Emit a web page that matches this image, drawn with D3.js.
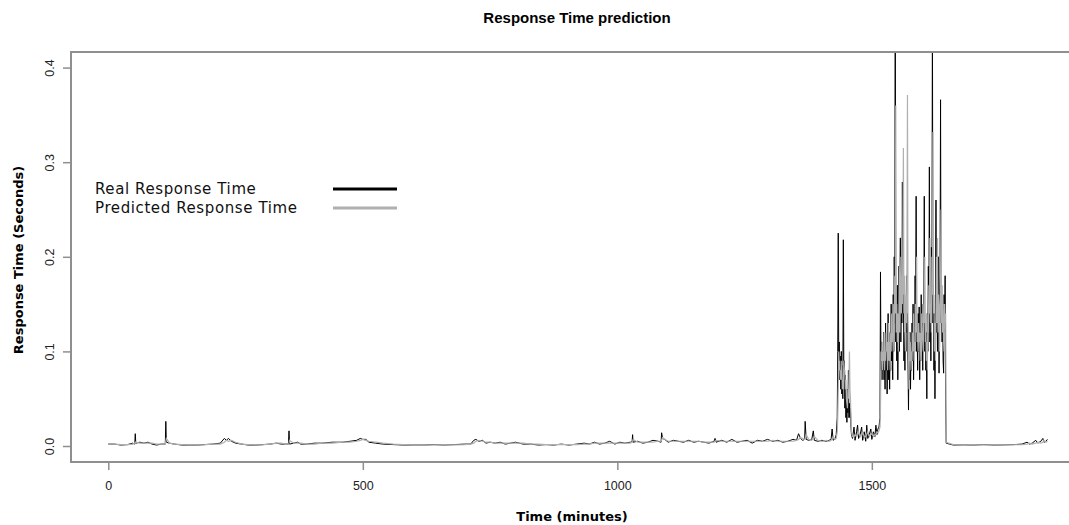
<!DOCTYPE html>
<html>
<head>
<meta charset="utf-8">
<script src="https://cdn.jsdelivr.net/npm/d3@7"></script>
<style>
  body { margin: 0; background: #fff; }
  svg { display: block; }
</style>
</head>
<body>
<div id="plot"></div>
<script>
// time in minutes (denser where the series is busy)
var minutes = [
  0,12,25,38,48,52,53,54,62,70,78,86,95,104,112,113,114,120,130,145,160,175,190,205,220,228,232,236,242,250,
  262,275,290,305,318,330,340,348,354,355,356,364,372,378,390,405,420,440,460,475,488,495,500,506,512,525,540,560,580,600,
  620,640,660,680,700,712,718,722,728,735,742,750,760,770,780,790,800,815,830,845,860,875,890,905,920,935,945,955,965,975,
  985,995,1005,1015,1025,1029,1030,1031,1040,1050,1060,1070,1080,1086,1087,1089,1093,1100,1110,1120,1130,1140,1150,1160,1170,1180,1190,1192,1194,1205,
  1215,1225,1235,1245,1255,1265,1275,1285,1295,1305,1315,1325,1335,1345,1352,1356,1360,1364,1368,1369,1371,1376,1382,1385,1387,1394,1402,1410,1416,1420,
  1422,1424,1428,
  1430,1432,1433,1434,1435,1436,1437,1438,1439,1440,1441,1442,1443,1444,1445,1446,1447,1448,1449,1450,1451,1452,1453,1454,1455,1456,1457,1458,1459,1460,
  1462,1465,1467,1470,1472,1474,1477,1480,1482,1485,1488,1490,1492,1495,1498,1500,1503,1506,1508,1510,1512,1514,
  1516,1517,1518,1519,1520,1521,1522,1523,1524,1525,1526,1527,1528,1529,1530,1531,1532,1533,1534,1535,1536,1537,1538,1539,1540,1541,1542,1543,1544,1545,
  1546,1547,1548,1549,1550,1551,1552,1553,1554,1555,1556,1557,1558,1559,1560,1561,1562,1563,1564,1565,1566,1567,1568,1569,1570,1571,1572,1573,1574,1575,
  1576,1577,1578,1579,1580,1581,1582,1583,1584,1585,1586,1587,1588,1589,1590,1591,1592,1593,1594,1595,1596,1597,1598,1599,1600,1601,1602,1603,1604,1605,
  1606,1607,1608,1609,1610,1611,1612,1613,1614,1615,1616,1617,1618,1619,1620,1621,1622,1623,1624,1625,1626,1627,1628,1629,1630,1631,1632,1633,1634,1635,
  1636,1637,1638,1639,1640,1641,1642,1643,1644,1645,1646,
  1660,1680,1700,1720,1740,1760,1780,1795,1805,1810,1815,1822,1826,1832,1836,1838,1842,1845
];

var realTime = [
  .002,.002,.001,.0015,.003,.002,.013,.003,.004,.003,.004,.002,.001,.002,.002,.026,.004,.003,.002,.001,.001,.001,.0015,.002,.003,.008,.006,.008,.005,.003,
  .002,.001,.001,.0015,.002,.003,.002,.002,.002,.016,.002,.003,.004,.002,.002,.003,.003,.004,.004,.005,.006,.008,.007,.007,.004,.003,.002,.0015,.001,.001,
  .001,.0015,.001,.0015,.002,.002,.006,.007,.005,.006,.003,.004,.003,.004,.002,.003,.004,.002,.002,.001,.0015,.001,.002,.001,.002,.003,.002,.004,.002,.003,
  .005,.002,.004,.003,.004,.004,.012,.004,.005,.003,.004,.006,.005,.004,.014,.008,.007,.004,.006,.005,.004,.006,.004,.005,.004,.003,.005,.008,.004,.006,
  .004,.007,.004,.005,.006,.003,.006,.005,.007,.005,.006,.004,.005,.007,.006,.013,.008,.006,.007,.026,.007,.006,.007,.016,.006,.005,.006,.005,.006,.007,
  .018,.006,.008,
  .012,.03,.10,.225,.09,.11,.07,.095,.06,.10,.055,.085,.05,.218,.07,.09,.04,.075,.03,.05,.025,.06,.035,.08,.03,.045,.03,.04,.02,.012,
  .008,.02,.006,.015,.022,.008,.012,.02,.006,.015,.005,.022,.008,.012,.018,.007,.015,.01,.022,.012,.018,.02,
  .03,.184,.08,.11,.07,.10,.08,.12,.07,.10,.06,.13,.08,.11,.055,.09,.14,.07,.10,.06,.12,.08,.15,.09,.12,.07,.16,.10,.20,.13,
  .52,.11,.14,.09,.17,.07,.12,.19,.10,.15,.22,.11,.17,.13,.279,.14,.16,.09,.12,.08,.14,.10,.18,.12,.14,.09,.038,.10,.07,.12,
  .06,.11,.08,.13,.09,.15,.07,.12,.10,.18,.11,.264,.10,.12,.08,.14,.10,.147,.07,.12,.09,.16,.11,.13,.08,.15,.11,.264,.10,.13,
  .08,.12,.05,.14,.10,.19,.13,.295,.11,.15,.09,.21,.14,.47,.13,.17,.08,.14,.05,.15,.26,.12,.16,.10,.15,.20,.077,.14,.18,.366,
  .13,.17,.11,.15,.09,.077,.16,.12,.18,.05,.003,
  .001,.0012,.001,.0015,.001,.0012,.0015,.002,.004,.002,.003,.006,.003,.005,.008,.004,.005,.007
];

var predictedTime = [
  .002,.002,.0015,.0015,.002,.003,.004,.004,.003,.003,.003,.003,.002,.002,.002,.005,.008,.003,.002,.0015,.0012,.0012,.0015,.002,.002,.004,.006,.005,.006,.004,
  .002,.0015,.0012,.0015,.002,.003,.003,.002,.002,.003,.006,.003,.003,.003,.002,.002,.003,.003,.004,.004,.005,.006,.007,.006,.005,.004,.003,.002,.0015,.001,
  .001,.0012,.0012,.0012,.0015,.002,.003,.005,.006,.005,.004,.004,.003,.003,.003,.003,.003,.003,.002,.002,.0015,.0015,.0015,.0015,.0015,.002,.002,.003,.003,.003,
  .003,.003,.003,.003,.003,.004,.005,.007,.004,.004,.004,.004,.005,.005,.006,.009,.007,.005,.005,.005,.005,.005,.005,.005,.004,.004,.004,.005,.006,.005,
  .005,.005,.005,.005,.005,.005,.005,.005,.005,.006,.005,.005,.005,.005,.006,.007,.009,.008,.007,.008,.012,.007,.006,.008,.010,.006,.005,.006,.005,.006,
  .008,.010,.007,
  .008,.015,.03,.06,.10,.08,.09,.07,.08,.07,.09,.06,.07,.06,.09,.08,.08,.06,.07,.05,.045,.04,.06,.05,.07,.10,.06,.05,.03,.015,
  .01,.01,.012,.01,.012,.015,.01,.012,.014,.01,.01,.012,.015,.01,.012,.013,.01,.012,.012,.015,.014,.016,
  .02,.04,.10,.09,.11,.08,.10,.09,.12,.08,.10,.09,.12,.10,.11,.08,.10,.13,.09,.11,.08,.12,.10,.14,.11,.12,.10,.15,.13,.18,
  .14,.36,.12,.15,.11,.14,.10,.13,.19,.12,.16,.20,.14,.18,.15,.22,.315,.14,.18,.12,.10,.16,.13,.20,.371,.13,.10,.06,.12,.09,
  .11,.08,.10,.09,.12,.10,.14,.09,.11,.10,.15,.12,.20,.11,.12,.10,.13,.11,.12,.09,.12,.10,.14,.12,.11,.10,.15,.13,.20,.11,
  .13,.09,.11,.08,.14,.12,.17,.14,.22,.13,.15,.12,.20,.16,.332,.14,.16,.10,.13,.09,.14,.20,.13,.22,.12,.16,.15,.10,.13,.17,
  .25,.13,.17,.12,.15,.11,.10,.15,.13,.14,.004,
  .0015,.0012,.0012,.0012,.0012,.0012,.0013,.0015,.002,.003,.002,.003,.004,.003,.004,.006,.004,.005
];

var xTicks = [0, 500, 1000, 1500];
var yTicks = [0, 0.1, 0.2, 0.3, 0.4];
var seriesNames = ["Real Response Time", "Predicted Response Time"];
var seriesColors = ["#000000", "#b0b0b0"];

var width = 1069, height = 525;
var box = { left: 71, right: 1088, top: 52, bottom: 462 };

var svg = d3.select("#plot").append("svg")
  .attr("width", width)
  .attr("height", height);

var xScale = d3.scaleLinear().domain([0, 1850]).range([108.3, 1050]);
var yScale = d3.scaleLinear().domain([0, 0.4]).range([446, 67.6]);

svg.append("defs").append("clipPath").attr("id", "clip")
  .append("rect")
    .attr("x", box.left)
    .attr("y", box.top)
    .attr("width", box.right - box.left)
    .attr("height", box.bottom - box.top);

var rows = minutes.map(function(m, i) {
  return { t: m, real: realTime[i], pred: predictedTime[i] };
});

var realLine = d3.line()
  .x(function(d) { return xScale(d.t); })
  .y(function(d) { return yScale(d.real); });
var predLine = d3.line()
  .x(function(d) { return xScale(d.t); })
  .y(function(d) { return yScale(d.pred); });

var lines = svg.append("g").attr("clip-path", "url(#clip)");
lines.append("path")
  .datum(rows)
  .attr("d", realLine)
  .style("fill", "none")
  .style("stroke", seriesColors[0])
  .style("stroke-width", 1);
lines.append("path")
  .datum(rows)
  .attr("d", predLine)
  .style("fill", "none")
  .style("stroke", seriesColors[1])
  .style("stroke-width", 1.2);

// box
svg.append("rect")
  .attr("x", box.left)
  .attr("y", box.top)
  .attr("width", box.right - box.left)
  .attr("height", box.bottom - box.top)
  .style("fill", "none")
  .style("stroke", "#8f8f8f")
  .style("stroke-width", 2);

// axes
var xAxis = svg.append("g")
  .attr("transform", "translate(0," + box.bottom + ")")
  .call(d3.axisBottom(xScale).tickValues(xTicks).tickSize(8).tickPadding(11).tickFormat(d3.format("d")));
var yAxis = svg.append("g")
  .attr("transform", "translate(" + box.left + ",0)")
  .call(d3.axisLeft(yScale).tickValues(yTicks).tickSize(8).tickFormat(d3.format(".1f")));

[xAxis, yAxis].forEach(function(a) {
  a.select(".domain").remove();
  a.selectAll("line").style("stroke", "#8f8f8f").style("stroke-width", 1.5);
  a.selectAll("text")
    .style("font-family", "'Liberation Sans', Arial, sans-serif")
    .style("font-size", "12.5px")
    .style("fill", "#222");
});

yAxis.selectAll("text")
  .attr("transform", "rotate(-90)")
  .attr("x", 0)
  .attr("y", -17)
  .attr("dy", 0)
  .style("text-anchor", "middle");

// title and axis labels
svg.append("text")
  .attr("x", 577)
  .attr("y", 23)
  .attr("text-anchor", "middle")
  .style("font-family", "'Liberation Sans', Arial, sans-serif")
  .style("font-weight", "bold")
  .style("font-size", "15px")
  .text("Response Time prediction");

svg.append("text")
  .attr("x", 572)
  .attr("y", 521)
  .attr("text-anchor", "middle")
  .style("font-family", "'DejaVu Sans', sans-serif")
  .style("font-weight", "bold")
  .style("font-size", "13px")
  .text("Time (minutes)");

svg.append("text")
  .attr("transform", "translate(23,260) rotate(-90)")
  .attr("text-anchor", "middle")
  .style("font-family", "'DejaVu Sans', sans-serif")
  .style("font-weight", "bold")
  .style("font-size", "13px")
  .text("Response Time (Seconds)");

// legend
var legend = svg.append("g");
seriesNames.forEach(function(name, i) {
  legend.append("text")
    .attr("x", 95)
    .attr("y", 194 + i * 19)
    .style("font-family", "'DejaVu Sans', sans-serif")
    .style("font-size", "15px")
    .style("letter-spacing", "0.6px")
    .style("fill", "#111")
    .text(name);
  legend.append("line")
    .attr("x1", 333).attr("x2", 397)
    .attr("y1", 189 + i * 19).attr("y2", 189 + i * 19)
    .style("stroke", seriesColors[i])
    .style("stroke-width", 3);
});
</script>
</body>
</html>
